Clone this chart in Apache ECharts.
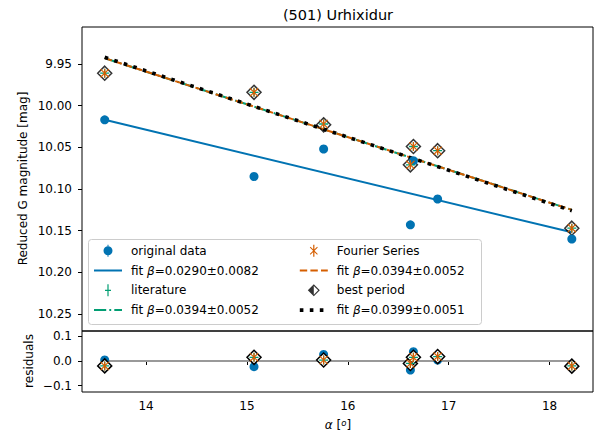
<!DOCTYPE html>
<html><head><meta charset="utf-8">
<script src="https://cdn.jsdelivr.net/npm/echarts@6/dist/echarts.min.js"></script>
<style>html,body{margin:0;padding:0;background:#fff}#c{width:597px;height:437px}</style>
</head><body><div id="c"></div>
<script>
// ---- data ----
const alpha      = [13.59, 15.07, 15.76, 16.62, 16.65, 16.89, 18.22];
const origMag    = [10.017, 10.085, 10.052, 10.143, 10.066, 10.112, 10.160];
const litMag     = [9.961, 9.984, 10.022, 10.071, 10.049, 10.054, 10.147];
const fourierMag = [9.961, 9.984, 10.022, 10.071, 10.049, 10.054, 10.147];
const bestMag    = [9.961, 9.984, 10.023, 10.071, 10.049, 10.054, 10.147];
const fitAlpha   = [13.59, 18.22];
const fitOrig    = [10.017, 10.152];
const fitLit     = [9.943, 10.125];
const fitFourier = [9.943, 10.125];
const fitBest    = [9.942, 10.126];
const residOrig    = [0.004, -0.023, 0.027, -0.037, 0.038, 0.004, -0.016];
const residLit     = [-0.020, 0.015, 0.004, -0.010, 0.015, 0.018, -0.020];
const residFourier = [-0.020, 0.015, 0.004, -0.010, 0.015, 0.018, -0.020];
const residBest    = [-0.020, 0.015, 0.004, -0.010, 0.015, 0.018, -0.021];
const zeroLine   = [0, 0];
const xTicks     = [14, 15, 16, 17, 18];
const yTicks     = [9.95, 10.00, 10.05, 10.10, 10.15, 10.20, 10.25];
const residTicks = [-0.1, 0.0, 0.1];
const legendLabels = {
  'original data': 'original data',
  'fitOrig': 'fit {i|β}=0.0290±0.0082',
  'literature': 'literature',
  'fitLit': 'fit {i|β}=0.0394±0.0052',
  'Fourier Series': 'Fourier Series',
  'fitFourier': 'fit {i|β}=0.0394±0.0052',
  'best period': 'best period',
  'fitBest': 'fit {i|β}=0.0399±0.0051'
};
const titleText = '(501) Urhixidur';
const yName = 'Reduced G magnitude [mag]';
const residName = 'residuals';

// ---- styling ----
const FONT = 'DejaVu Sans';
const C_BLUE = '#0173B2', C_ORANGE = '#D55E00', C_GREEN = '#029E73';
const XMIN = 13.365, XMAX = 18.43;
const pairs = (xs, ys) => xs.map((x, i) => [x, ys[i]]);

const P_PLUS = 'path://M4.3,0H5.7V4.3H10V5.7H5.7V10H4.3V5.7H0V4.3H4.3Z';
const P_AST = 'path://M0,0.8L0.8,0L9,8.2L8.2,9Z M8.2,0L9,0.8L0.8,9L0,8.2Z M3.9,0H5.1V9H3.9Z';
const L_CIRC = 'path://M4.5,0H5.5V12H4.5Z M9.5,6A4.5,4.5 0 1 1 0.5,6A4.5,4.5 0 1 1 9.5,6Z';
const L_LIT = 'path://M4.4,0H5.6V12H4.4Z M2,5.4H8V6.6H2Z';
const L_AST = 'path://M1,2.7L1.7,2L9,9.3L8.3,10Z M8.3,2L9,2.7L1.7,10L1,9.3Z M4.4,0H5.6V12H4.4Z';
const L_DIA = 'path://M6,0L12,6L6,12L0,6Z M6,1.6L1.6,6L6,10.4L10.4,6Z M6,0L6,12L0,6Z';

const tickStyle = { show: true, length: 4, inside: false, lineStyle: { color: '#000', width: 1 } };
const labelStyle = { color: '#000', fontSize: 12, fontFamily: FONT };
const fmtRes = v => (v < 0 ? '\u2212' + Math.abs(v).toFixed(1) : v.toFixed(1));
const hiddenSym = { color: 'rgba(0,0,0,0)', borderWidth: 0, opacity: 0 };

const chart = echarts.init(document.getElementById('c'), null, { renderer: 'svg', width: 597, height: 437 });

const legendCommon = {
  orient: 'vertical', itemWidth: 28, itemHeight: 12, itemGap: 7.8, padding: 0,
  selectedMode: false, backgroundColor: 'transparent',
  lineStyle: { width: 'inherit' },
  formatter: n => legendLabels[n],
  textStyle: { fontFamily: FONT, fontSize: 12, color: '#000', lineHeight: 12, padding: [0, 0, 0, 4],
    rich: { i: { fontFamily: FONT, fontSize: 12, fontStyle: 'italic', color: '#000', lineHeight: 12 } } }
};

const option = {
  animation: false,
  backgroundColor: '#fff',
  textStyle: { fontFamily: FONT },
  grid: [
    { left: 82, top: 27, width: 511, height: 304, show: true, borderColor: '#000', borderWidth: 1, backgroundColor: 'transparent', outerBoundsMode: 'none', containLabel: false },
    { left: 82, top: 331, width: 511, height: 61, show: true, borderColor: '#000', borderWidth: 1, backgroundColor: 'transparent', outerBoundsMode: 'none', containLabel: false }
  ],
  xAxis: [
    { gridIndex: 0, type: 'value', min: XMIN, max: XMAX, axisLine: { show: false }, axisTick: { show: false }, axisLabel: { show: false }, splitLine: { show: false } },
    { gridIndex: 1, type: 'value', min: XMIN, max: XMAX, axisLine: { show: false },
      axisTick: Object.assign({ customValues: xTicks }, tickStyle),
      axisLabel: Object.assign({ customValues: xTicks, margin: 8, formatter: v => String(v) }, labelStyle),
      splitLine: { show: false } }
  ],
  yAxis: [
    { gridIndex: 0, type: 'value', inverse: true, min: 9.9056, max: 10.2704, axisLine: { show: false },
      axisTick: Object.assign({ customValues: yTicks }, tickStyle),
      axisLabel: Object.assign({ customValues: yTicks, margin: 10, formatter: v => v.toFixed(2) }, labelStyle),
      splitLine: { show: false } },
    { gridIndex: 1, type: 'value', min: -0.1265, max: 0.1224, axisLine: { show: false },
      axisTick: Object.assign({ customValues: residTicks }, tickStyle),
      axisLabel: Object.assign({ customValues: residTicks, margin: 10, formatter: fmtRes }, labelStyle),
      splitLine: { show: false } }
  ],
  legend: [
    Object.assign({}, legendCommon, { left: 93, top: 244.7, data: [
      { name: 'original data', icon: L_CIRC, itemStyle: { color: C_BLUE, borderWidth: 0 } },
      { name: 'fitOrig', itemStyle: hiddenSym },
      { name: 'literature', icon: L_LIT, itemStyle: { color: C_GREEN, borderWidth: 0 } },
      { name: 'fitLit', itemStyle: hiddenSym }
    ] }),
    Object.assign({}, legendCommon, { left: 298, top: 244.7, data: [
      { name: 'Fourier Series', icon: L_AST, itemStyle: { color: C_ORANGE, borderWidth: 0 } },
      { name: 'fitFourier', itemStyle: hiddenSym },
      { name: 'best period', icon: L_DIA, itemStyle: { color: '#000', borderWidth: 0 } },
      { name: 'fitBest', itemStyle: hiddenSym }
    ] })
  ],
  graphic: [
    { type: 'rect', z: 3, shape: { x: 88.5, y: 239.5, width: 393, height: 85, r: 3 },
      style: { fill: 'rgba(255,255,255,0.8)', stroke: '#cccccc', lineWidth: 1 } },
    { type: 'text', x: 338, y: 14.5, style: { text: titleText, font: '14.5px "DejaVu Sans"', fill: '#000', textAlign: 'center', textVerticalAlign: 'middle' } },
    { type: 'text', x: 23, y: 178.5, rotation: Math.PI / 2, style: { text: yName, font: '12px "DejaVu Sans"', fill: '#000', textAlign: 'center', textVerticalAlign: 'middle' } },
    { type: 'text', x: 29, y: 361, rotation: Math.PI / 2, style: { text: residName, font: '12px "DejaVu Sans"', fill: '#000', textAlign: 'center', textVerticalAlign: 'middle' } },
    { type: 'text', x: 338, y: 425, style: {
        text: '{i|α} [{s|o}]', fill: '#000', textAlign: 'center', textVerticalAlign: 'middle',
        font: '12px "DejaVu Sans"',
        rich: { i: { fontFamily: FONT, fontSize: 12, fontStyle: 'italic', fill: '#000', lineHeight: 14 },
                s: { fontFamily: FONT, fontSize: 8.5, fontStyle: 'italic', fill: '#000', verticalAlign: 'top', lineHeight: 14 } } } }
  ],
  series: [
    // ---- main panel ----
    { name: 'fitOrig', type: 'line', xAxisIndex: 0, yAxisIndex: 0, data: pairs(fitAlpha, fitOrig), symbol: 'none', z: 2,
      lineStyle: { color: C_BLUE, width: 2 }, itemStyle: { color: C_BLUE } },
    { name: 'fitLit', type: 'line', xAxisIndex: 0, yAxisIndex: 0, data: pairs(fitAlpha, fitLit), symbol: 'none', z: 2,
      lineStyle: { color: C_GREEN, width: 2, type: [12.2, 3.1, 1.9, 3.1], cap: 'butt' }, itemStyle: { color: C_GREEN } },
    { name: 'fitFourier', type: 'line', xAxisIndex: 0, yAxisIndex: 0, data: pairs(fitAlpha, fitFourier), symbol: 'none', z: 2,
      lineStyle: { color: C_ORANGE, width: 2, type: [7.4, 3.2], cap: 'butt' }, itemStyle: { color: C_ORANGE } },
    { name: 'fitBest', type: 'line', xAxisIndex: 0, yAxisIndex: 0, data: pairs(fitAlpha, fitBest), symbol: 'none', z: 2,
      lineStyle: { color: '#000', width: 3.6, type: [3.6, 6.4], cap: 'butt' }, itemStyle: { color: '#000' } },
    { name: 'best period', type: 'scatter', xAxisIndex: 0, yAxisIndex: 0, data: pairs(alpha, bestMag), symbol: 'diamond', symbolSize: 14, z: 3,
      itemStyle: { color: 'rgba(255,255,255,0)', borderColor: '#000', borderWidth: 1.5 } },
    { name: 'original data', type: 'scatter', xAxisIndex: 0, yAxisIndex: 0, data: pairs(alpha, origMag), symbol: 'circle', symbolSize: 9, z: 4,
      itemStyle: { color: C_BLUE, opacity: 1 } },
    { name: 'literature', type: 'scatter', xAxisIndex: 0, yAxisIndex: 0, data: pairs(alpha, litMag), symbol: P_PLUS, symbolSize: 9, z: 5,
      itemStyle: { color: C_GREEN, opacity: 1 } },
    { name: 'Fourier Series', type: 'scatter', xAxisIndex: 0, yAxisIndex: 0, data: pairs(alpha, fourierMag), symbol: P_AST, symbolSize: 9, z: 6,
      itemStyle: { color: C_ORANGE, opacity: 1 } },
    // ---- residual panel ----
    { name: 'rZero', type: 'line', xAxisIndex: 1, yAxisIndex: 1, data: pairs(fitAlpha, zeroLine), symbol: 'none', z: 1,
      lineStyle: { color: '#999999', width: 2 } },
    { name: 'rOrig', type: 'scatter', xAxisIndex: 1, yAxisIndex: 1, data: pairs(alpha, residOrig), symbol: 'circle', symbolSize: 9, z: 2,
      itemStyle: { color: C_BLUE, opacity: 1 } },
    { name: 'rBest', type: 'scatter', xAxisIndex: 1, yAxisIndex: 1, data: pairs(alpha, residBest), symbol: 'diamond', symbolSize: 14, z: 3,
      itemStyle: { color: '#ffffff', borderColor: '#000', borderWidth: 1.5, opacity: 1 } },
    { name: 'rLit', type: 'scatter', xAxisIndex: 1, yAxisIndex: 1, data: pairs(alpha, residLit), symbol: P_PLUS, symbolSize: 9, z: 4,
      itemStyle: { color: C_GREEN, opacity: 1 } },
    { name: 'rFourier', type: 'scatter', xAxisIndex: 1, yAxisIndex: 1, data: pairs(alpha, residFourier), symbol: P_AST, symbolSize: 9, z: 5,
      itemStyle: { color: C_ORANGE, opacity: 1 } }
  ]
};
chart.setOption(option);
</script>
</body></html>
